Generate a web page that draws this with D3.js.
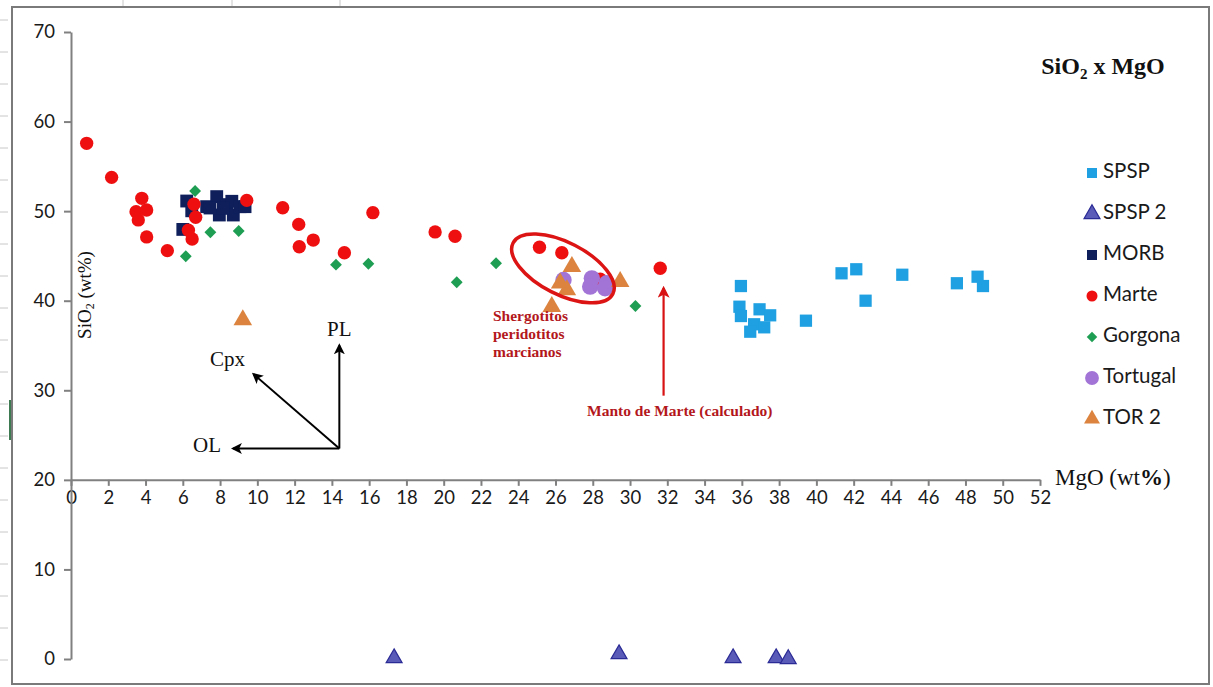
<!DOCTYPE html>
<html>
<head>
<meta charset="utf-8">
<script src="https://cdn.jsdelivr.net/npm/d3@7"></script>
<style>
  body { margin: 0; background: #fff; }
  .tick text { font-family: Lato, "Open Sans", sans-serif; font-size: 18.5px; fill: #1a1a1a; }
  .legend-label { font-family: Lato, "Open Sans", sans-serif; font-size: 20.5px; fill: #1a1a1a; }
  .serif { font-family: "Liberation Serif", "DejaVu Serif", serif; }
</style>
</head>
<body>
<div id="chart"></div>
<script>
// data: [MgO, SiO2] in wt%
const spsp = [[35.95,41.64],[35.87,39.33],[35.95,38.29],[36.95,39.04],[37.52,38.37],[36.66,37.37],[37.2,37.03],[36.45,36.54],[39.44,37.77],[41.35,43.06],[42.14,43.51],[42.64,40.0],[44.61,42.9],[47.54,41.95],[48.65,42.68],[48.94,41.64]];
const spsp2 = [[17.34,0.1],[29.41,0.55],[35.53,0.1],[37.84,0.1],[38.49,0.0]];
const morb = [[6.21,51.13],[6.0,47.96],[6.48,50.04],[7.28,50.5],[7.82,51.62],[7.96,49.57],[8.36,50.73],[8.63,51.1],[8.71,49.57],[9.07,50.5],[9.34,50.5],[7.46,50.35],[8.18,50.31]];
const marte = [[0.84,57.57],[2.18,53.77],[3.8,51.43],[3.49,49.94],[4.06,50.13],[3.61,49.02],[4.06,47.12],[5.17,45.59],[6.6,50.77],[6.69,49.32],[6.3,47.87],[6.5,46.89],[9.43,51.2],[11.36,50.38],[12.22,48.52],[12.25,46.02],[13.0,46.77],[14.67,45.35],[16.2,49.83],[19.54,47.68],[20.61,47.2],[25.14,45.97],[26.34,45.35],[31.62,43.62],[28.4,42.4]];
const gorgona = [[6.66,52.25],[6.16,44.96],[7.48,47.64],[9.0,47.78],[14.22,44.02],[15.96,44.13],[22.81,44.18],[20.7,42.06],[30.29,39.41]];
const tortugal = [[26.43,42.31],[27.95,42.5],[27.86,41.57],[28.75,41.95],[28.66,41.39]];
const tor2 = [[26.88,43.8],[26.25,41.95],[26.61,41.2],[25.8,39.33],[29.47,42.12],[9.22,37.85]];

const xTicks = d3.range(0, 53, 2);
const yTicks = d3.range(0, 71, 10);

const series = [
    {name: "SPSP", data: spsp, shape: "square", fill: "#1ea0e2", stroke: "none", size: 150, lsize: 100},
    {name: "SPSP 2", data: spsp2, shape: "triangle", fill: "#5a5ab8", stroke: "#2b2b96", size: 110, lsize: 110},
    {name: "MORB", data: morb, shape: "square", fill: "#0e1f5c", stroke: "none", size: 165, lsize: 100},
    {name: "Marte", data: marte, shape: "circle", fill: "#ee1010", stroke: "none", size: 140, lsize: 95},
    {name: "Gorgona", data: gorgona, shape: "diamond", fill: "#1e9e52", stroke: "none", size: 70, lsize: 55},
    {name: "Tortugal", data: tortugal, shape: "circle", fill: "#a274d6", stroke: "none", size: 210, lsize: 150},
    {name: "TOR 2", data: tor2, shape: "triangle", fill: "#dc843f", stroke: "none", size: 150, lsize: 110}
];

const width = 1213, height = 687;

const svg = d3.select("#chart").append("svg")
    .attr("width", width)
    .attr("height", height);

svg.append("rect").attr("width", width).attr("height", height).attr("fill", "#fff");

// spreadsheet grid peeking round the chart
[123, 232, 340].forEach(function(gx) {
    svg.append("line").attr("x1", gx).attr("x2", gx).attr("y1", 0).attr("y2", 7).attr("stroke", "#c8c8c8");
});
d3.range(20, 687, 32).forEach(function(gy) {
    svg.append("line").attr("x1", 0).attr("x2", 8).attr("y1", gy).attr("y2", gy).attr("stroke", "#c8c8c8");
});
svg.append("line").attr("x1", 10).attr("x2", 10).attr("y1", 400).attr("y2", 440).attr("stroke", "#3d7a52").attr("stroke-width", 2);

// chart frame
svg.append("rect")
    .attr("x", 12).attr("y", 7)
    .attr("width", 1197).attr("height", 677)
    .attr("fill", "none")
    .attr("stroke", "#7a7a7a")
    .attr("stroke-width", 2);

/* SCALES */
const xScale = d3.scaleLinear().domain([0, 52]).range([71, 1040]);
const yScale = d3.scaleLinear().domain([0, 70]).range([659, 32]);

/* AXES */
const xAxis = svg.append("g")
    .attr("transform", `translate(0,${yScale(20)})`)
    .call(d3.axisBottom(xScale).tickValues(xTicks).tickSize(6).tickSizeOuter(0).tickPadding(5));

const yAxis = svg.append("g")
    .attr("transform", `translate(${xScale(0)},0)`)
    .call(d3.axisLeft(yScale).tickValues(yTicks).tickSize(7).tickSizeOuter(0).tickPadding(9));

svg.selectAll(".domain").attr("stroke", "#808080").attr("stroke-width", 2);
svg.selectAll(".tick line").attr("stroke", "#808080").attr("stroke-width", 2);

/* AXIS TITLES */
const yTitle = svg.append("text")
    .attr("class", "serif")
    .attr("transform", "translate(87,295) rotate(-90)")
    .attr("text-anchor", "middle")
    .attr("dominant-baseline", "middle")
    .attr("font-size", 19)
    .attr("fill", "#111");
yTitle.append("tspan").text("SiO");
yTitle.append("tspan").attr("font-size", 12).attr("dy", 4).text("2");
yTitle.append("tspan").attr("dy", -4).text(" (wt%)");

const xTitle = svg.append("text")
    .attr("class", "serif")
    .attr("x", 1055).attr("y", yScale(20))
    .attr("dominant-baseline", "middle")
    .attr("font-size", 23)
    .attr("fill", "#111");
xTitle.append("tspan").text("MgO (wt");
xTitle.append("tspan").attr("font-weight", "bold").text("%");
xTitle.append("tspan").text(")");

const title = svg.append("text")
    .attr("class", "serif")
    .attr("x", 1103).attr("y", 74)
    .attr("text-anchor", "middle")
    .attr("font-size", 24)
    .attr("font-weight", "bold")
    .attr("fill", "#111");
title.append("tspan").text("SiO");
title.append("tspan").attr("font-size", 15).attr("dy", 5).text("2");
title.append("tspan").attr("dy", -5).text(" x MgO");

/* MARKERS */
function symbolFor(shape) {
    if (shape === "square") return d3.symbolSquare;
    if (shape === "triangle") return d3.symbolTriangle;
    if (shape === "diamond") return d3.symbolSquare;
    return d3.symbolCircle;
}

series.forEach(function(s) {
    svg.append("g").selectAll("path")
        .data(s.data)
        .enter()
        .append("path")
        .attr("d", d3.symbol().type(symbolFor(s.shape)).size(s.size))
        .attr("transform", function(d) {
            return `translate(${xScale(d[0])},${yScale(d[1])})` + (s.shape === "diamond" ? " rotate(45)" : "");
        })
        .attr("fill", s.fill)
        .attr("stroke", s.stroke)
        .attr("stroke-width", 1.2)
        .attr("stroke-linejoin", s.shape === "square" ? "round" : "miter");
});

/* ANNOTATIONS */
const defs = svg.append("defs");
function arrowHead(id, color) {
    defs.append("marker")
        .attr("id", id)
        .attr("viewBox", "0 0 10 10")
        .attr("refX", 8).attr("refY", 5)
        .attr("markerWidth", 5.5).attr("markerHeight", 5.5)
        .attr("orient", "auto")
        .append("path")
        .attr("d", "M0,0 L10,5 L0,10 L2.5,5 Z")
        .attr("fill", color);
}
arrowHead("blackHead", "#000");
arrowHead("redHead", "#d81212");

// OL / Cpx / PL vectors
const origin = [14.4, 23.5];
const vectors = [
    {label: "PL", tip: [14.4, 35.0], lx: 14.4, ly: 36.6},
    {label: "Cpx", tip: [9.8, 31.8], lx: 8.4, ly: 33.2},
    {label: "OL", tip: [8.7, 23.5], lx: 7.3, ly: 23.6}
];
vectors.forEach(function(v) {
    svg.append("line")
        .attr("x1", xScale(origin[0])).attr("y1", yScale(origin[1]))
        .attr("x2", xScale(v.tip[0])).attr("y2", yScale(v.tip[1]))
        .attr("stroke", "#000").attr("stroke-width", 2)
        .attr("marker-end", "url(#blackHead)");
    svg.append("text")
        .attr("class", "serif")
        .attr("x", xScale(v.lx)).attr("y", yScale(v.ly))
        .attr("text-anchor", "middle")
        .attr("dominant-baseline", "middle")
        .attr("font-size", 21)
        .attr("fill", "#111")
        .text(v.label);
});

// ellipse round the martian shergottites
svg.append("ellipse")
    .attr("cx", xScale(26.4)).attr("cy", yScale(43.6))
    .attr("rx", 56).attr("ry", 26)
    .attr("transform", `rotate(27,${xScale(26.4)},${yScale(43.6)})`)
    .attr("fill", "none")
    .attr("stroke", "#dc1414")
    .attr("stroke-width", 3.5);

const sherg = svg.append("text")
    .attr("class", "serif")
    .attr("x", 493).attr("y", 321)
    .attr("font-size", 15.5)
    .attr("font-weight", "bold")
    .attr("fill", "#b3171c");
["Shergotitos", "peridotitos", "marcianos"].forEach(function(t, i) {
    sherg.append("tspan").attr("x", 493).attr("dy", i === 0 ? 0 : 18).text(t);
});

// Mars mantle arrow
svg.append("line")
    .attr("x1", xScale(31.8)).attr("y1", yScale(29.4))
    .attr("x2", xScale(31.8)).attr("y2", yScale(41.4))
    .attr("stroke", "#d81212").attr("stroke-width", 2.2)
    .attr("marker-end", "url(#redHead)");

svg.append("text")
    .attr("class", "serif")
    .attr("x", 587).attr("y", 416)
    .attr("font-size", 15.5)
    .attr("font-weight", "bold")
    .attr("fill", "#b3171c")
    .text("Manto de Marte (calculado)");

/* LEGEND */
const legend = svg.append("g");
series.forEach(function(s, i) {
    const ly = 173 + i * 41;
    legend.append("path")
        .attr("d", d3.symbol().type(symbolFor(s.shape)).size(s.lsize))
        .attr("transform", `translate(1092,${ly})` + (s.shape === "diamond" ? " rotate(45)" : ""))
        .attr("fill", s.fill)
        .attr("stroke", s.stroke)
        .attr("stroke-width", 1.2);
    legend.append("text")
        .attr("class", "legend-label")
        .attr("x", 1103).attr("y", ly)
        .attr("dominant-baseline", "middle")
        .text(s.name);
});
</script>
</body>
</html>
